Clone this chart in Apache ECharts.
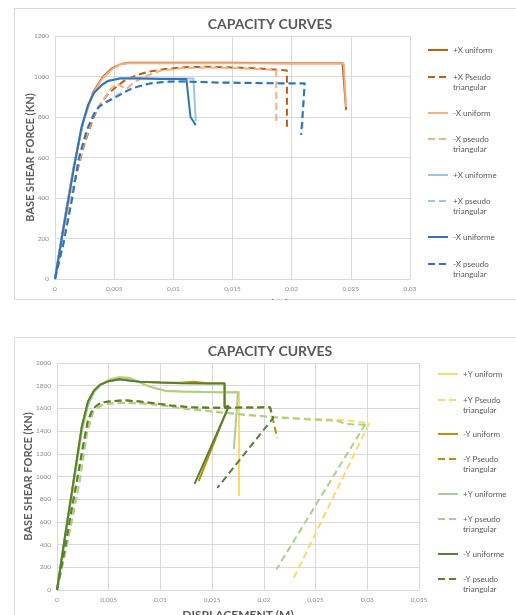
<!DOCTYPE html>
<html><head><meta charset="utf-8">
<script src="https://cdn.jsdelivr.net/npm/echarts@6/dist/echarts.min.js"></script>
<style>html,body{margin:0;padding:0;background:#fff;overflow:hidden;width:516px;height:615px}#c{width:516px;height:640px}</style>
</head><body><div id="c"></div>
<script>
// ---------- DATA: chart 1 (X direction) ----------
const names1 = ['+X uniform','+X Pseudo triangular','-X uniform','-X pseudo triangular','+X uniforme','+X pseudo triangular','-X uniforme','-X pseudo triangular\u200b'];
const xPosUniform = [[0,0],[0.0008,290],[0.0016,560],[0.0024,780],[0.0032,920],[0.004,995],[0.0048,1040],[0.0056,1062],[0.0062,1068],[0.01,1068],[0.015,1068],[0.02,1066],[0.0243,1066],[0.0246,835]];
const xPosPseudo = [[0,0],[0.0008,230],[0.0016,470],[0.0024,650],[0.0032,790],[0.0038,860],[0.0045,915],[0.0052,950],[0.006,985],[0.007,1008],[0.008,1025],[0.0095,1038],[0.011,1046],[0.013,1048],[0.015,1045],[0.017,1040],[0.0185,1035],[0.0196,1030],[0.0196,740]];
const xNegUniform = [[0,0],[0.0008,290],[0.0016,560],[0.0024,780],[0.0032,915],[0.004,990],[0.0048,1035],[0.0056,1062],[0.0062,1066],[0.01,1066],[0.015,1066],[0.02,1064],[0.0244,1064],[0.0246,850]];
const xNegPseudo = [[0,0],[0.0008,240],[0.0016,480],[0.0024,660],[0.0032,800],[0.0039,868],[0.0046,930],[0.0052,965],[0.006,938],[0.0068,975],[0.0078,1005],[0.009,1030],[0.011,1042],[0.013,1045],[0.016,1040],[0.0187,1032],[0.0187,770]];
const xPosUniforme = [[0,0],[0.0008,280],[0.0016,550],[0.00225,752],[0.0028,860],[0.0033,920],[0.004,962],[0.0045,980],[0.0055,992],[0.007,992],[0.009,990],[0.0117,990],[0.0119,780]];
const xPosPseudoE = [[0,0],[0.0007,175],[0.0014,390],[0.002,600],[0.0027,740],[0.0033,820],[0.0038,855],[0.0045,880],[0.0055,915],[0.0065,940],[0.0075,958],[0.009,972],[0.011,976],[0.0135,972],[0.016,970],[0.019,968],[0.0211,968],[0.0209,745]];
const xNegUniforme = [[0,0],[0.0008,280],[0.0016,550],[0.00225,752],[0.0028,860],[0.0033,920],[0.004,960],[0.0045,978],[0.0055,990],[0.007,990],[0.009,988],[0.0111,988],[0.01145,800],[0.0119,760]];
const xNegPseudoE = [[0,0],[0.0007,170],[0.0014,380],[0.002,590],[0.0027,736],[0.0033,815],[0.0037,850],[0.0042,870],[0.0052,900],[0.0062,933],[0.007,950],[0.008,966],[0.0095,975],[0.011,975],[0.0135,970],[0.016,968],[0.019,966],[0.0211,966],[0.0208,711]];

// ---------- DATA: chart 2 (Y direction) ----------
const names2 = ['+Y uniform','+Y Pseudo triangular','-Y uniform','-Y Pseudo triangular','+Y uniforme','+Y pseudo triangular','-Y uniforme','-Y pseudo triangular'];
const yPosUniform = [[0,0],[0.0008,470],[0.0016,940],[0.0024,1400],[0.003,1630],[0.0036,1748],[0.0042,1808],[0.005,1852],[0.006,1876],[0.007,1870],[0.008,1830],[0.009,1790],[0.0105,1752],[0.012,1748],[0.014,1746],[0.016,1745],[0.0176,1745],[0.0176,828]];
const yPosPseudo = [[0,0],[0.0008,330],[0.0016,690],[0.0022,970],[0.0029,1390],[0.0035,1575],[0.0043,1630],[0.005,1642],[0.0065,1650],[0.0076,1645],[0.009,1638],[0.011,1615],[0.013,1592],[0.015,1575],[0.018,1548],[0.021,1525],[0.024,1510],[0.027,1500],[0.0285,1490],[0.0302,1470],[0.0227,70]];
const yNegUniform = [[0,0],[0.0008,490],[0.0016,960],[0.0024,1440],[0.003,1660],[0.0036,1760],[0.0042,1810],[0.005,1840],[0.006,1856],[0.007,1845],[0.008,1835],[0.01,1828],[0.012,1826],[0.0132,1835],[0.0145,1822],[0.0162,1822],[0.0162,1615],[0.0166,1625],[0.0137,960]];
const yNegPseudo = [[0,0],[0.0008,380],[0.0014,700],[0.002,1000],[0.0025,1260],[0.003,1498],[0.0035,1600],[0.0042,1650],[0.005,1660],[0.0065,1672],[0.008,1660],[0.0095,1645],[0.011,1625],[0.013,1610],[0.015,1605],[0.0175,1607],[0.0206,1610],[0.0213,1340]];
const yPosUniforme = [[0,0],[0.0008,470],[0.0016,940],[0.0024,1400],[0.003,1630],[0.0036,1745],[0.0042,1805],[0.005,1850],[0.006,1872],[0.007,1868],[0.008,1830],[0.009,1790],[0.0105,1755],[0.012,1748],[0.014,1745],[0.0163,1740],[0.0175,1742],[0.0171,1240]];
const yPosPseudoE = [[0,0],[0.0008,330],[0.0016,680],[0.0022,960],[0.0029,1380],[0.0035,1570],[0.0043,1628],[0.005,1640],[0.0065,1650],[0.008,1645],[0.01,1630],[0.012,1600],[0.015,1572],[0.018,1545],[0.021,1522],[0.024,1505],[0.027,1492],[0.028,1462],[0.0298,1455],[0.0299,1475],[0.0212,180]];
const yNegUniforme = [[0,0],[0.0008,490],[0.0016,960],[0.0024,1440],[0.003,1660],[0.0036,1760],[0.0042,1810],[0.005,1840],[0.006,1856],[0.007,1845],[0.008,1835],[0.01,1828],[0.012,1822],[0.014,1820],[0.0162,1820],[0.0162,1612],[0.0166,1615],[0.0133,935]];
const yNegPseudoE = [[0,0],[0.0008,380],[0.0014,700],[0.002,1000],[0.0025,1260],[0.003,1498],[0.0035,1600],[0.0042,1650],[0.005,1660],[0.0065,1672],[0.008,1660],[0.0095,1645],[0.011,1625],[0.013,1610],[0.015,1605],[0.0175,1607],[0.0206,1610],[0.0209,1515],[0.0155,900]];

const titleText = 'CAPACITY CURVES';
const xAxisTitle = 'DISPLACEMENT (M)';
const yAxisTitle = 'BASE SHEAR FORCE (KN)';

const data1 = [xPosUniform,xPosPseudo,xNegUniform,xNegPseudo,xPosUniforme,xPosPseudoE,xNegUniforme,xNegPseudoE];
const data2 = [yPosUniform,yPosPseudo,yNegUniform,yNegPseudo,yPosUniforme,yPosPseudoE,yNegUniforme,yNegPseudoE];

// ---------- STYLE ----------
const colors1 = ['#C55A11','#C55A11','#F4B183','#F4B183','#9DC3E6','#9DC3E6','#2E75B6','#2E75B6'];
const colors2 = ['#FFD966','#FFD966','#BF9000','#BF9000','#A9D18E','#A9D18E','#538135','#538135'];
const dashed = [false,true,false,true,false,true,false,true];
const legendY1 = [45,77,108,139,170,201,232,264];
const legendY2 = [369,400,429,459,489,519,549,579];
const FONT = 'Lato, "Liberation Sans", sans-serif';

const fmtX = v => (+v.toFixed(4)).toString().replace('.', ',');
const fmtY = v => String(v);

function makeSeries(names, datas, colors, gi) {
  return names.map((n, i) => ({
    name: n, type: 'line', xAxisIndex: gi, yAxisIndex: gi,
    data: datas[i], showSymbol: false, symbol: 'none', smooth: false,
    lineStyle: { color: colors[i], width: 2, type: dashed[i] ? [7, 4] : 'solid', cap: 'butt' },
    itemStyle: { color: colors[i] }, animation: false
  }));
}
function makeLegends(names, ys, left, colors) {
  return names.map((n, i) => {
    const two = n.indexOf('triangular') >= 0;
    return {
      data: [n], left: left, top: two ? ys[i] - 20 : ys[i] - 5,
      itemWidth: 20, itemHeight: 10,
      itemStyle: { opacity: 0 },
      lineStyle: { color: colors[i], width: 2, type: dashed[i] ? [7, 4] : 'solid' },
      formatter: s => {
        const t = s.replace('\u200b', '');
        return t.indexOf(' triangular') >= 0 ? ' \n' + t.replace(' triangular', '\ntriangular') : t;
      },
      textStyle: { fontSize: 8, color: '#595959', fontFamily: FONT, lineHeight: 10 }
    };
  });
}
const axisX = (gi, max) => ({
  type: 'value', gridIndex: gi, min: 0, max: max, interval: 0.005,
  name: xAxisTitle, nameLocation: 'middle', nameGap: 19, nameMoveOverlap: false,
  nameTextStyle: { fontSize: 12, fontWeight: 'bold', color: '#595959', fontFamily: FONT },
  axisLine: { show: true, lineStyle: { color: '#d9d9d9' } }, axisTick: { show: false },
  axisLabel: { fontSize: 6.5, color: '#8c8c8c', margin: 6, fontFamily: FONT, formatter: fmtX },
  splitLine: { show: true, lineStyle: { color: '#d9d9d9', width: 1 } }
});
const axisY = (gi, max, gap) => ({
  type: 'value', gridIndex: gi, min: 0, max: max, interval: 200,
  name: yAxisTitle, nameLocation: 'middle', nameGap: gap, nameRotate: 90, nameMoveOverlap: false,
  nameTextStyle: { fontSize: 11, fontWeight: 'bold', color: '#595959', fontFamily: FONT },
  axisLine: { show: false }, axisTick: { show: false },
  axisLabel: { fontSize: 6.5, color: '#8c8c8c', margin: 6, fontFamily: FONT, formatter: fmtY },
  splitLine: { show: true, lineStyle: { color: '#d9d9d9', width: 1 } }
});

const chart = echarts.init(document.getElementById('c'), null, { renderer: 'canvas' });
chart.setOption({
  animation: false,
  backgroundColor: '#fff',
  grid: [
    { left: 55, top: 36, width: 355, height: 243 },
    { left: 57, top: 363, width: 362, height: 227 }
  ],
  xAxis: [axisX(0, 0.03), axisX(1, 0.035)],
  yAxis: [axisY(0, 1200, 19), axisY(1, 2000, 23)],
  legend: makeLegends(names1, legendY1, 422, colors1).concat(makeLegends(names2, legendY2, 432, colors2)),
  series: makeSeries(names1, data1, colors1, 0).concat(makeSeries(names2, data2, colors2, 1)),
  graphic: [
    { type: 'rect', z: -10, shape: { x: 14.5, y: 8.5, width: 600, height: 291 }, style: { fill: 'none', stroke: '#d9d9d9', lineWidth: 1 } },
    { type: 'rect', z: 100, shape: { x: 0, y: 300, width: 516, height: 36.5 }, style: { fill: '#fff' } },
    { type: 'rect', z: 101, shape: { x: 14.5, y: 337.5, width: 600, height: 400 }, style: { fill: 'none', stroke: '#d9d9d9', lineWidth: 1 } },
    { type: 'text', z: 50, x: 270, y: 24, style: { text: titleText, align: 'center', verticalAlign: 'middle', font: 'bold 14px ' + FONT, fill: '#595959' } },
    { type: 'text', z: 50, x: 270, y: 351, style: { text: titleText, align: 'center', verticalAlign: 'middle', font: 'bold 14px ' + FONT, fill: '#595959' } }
  ]
});
</script></body></html>
